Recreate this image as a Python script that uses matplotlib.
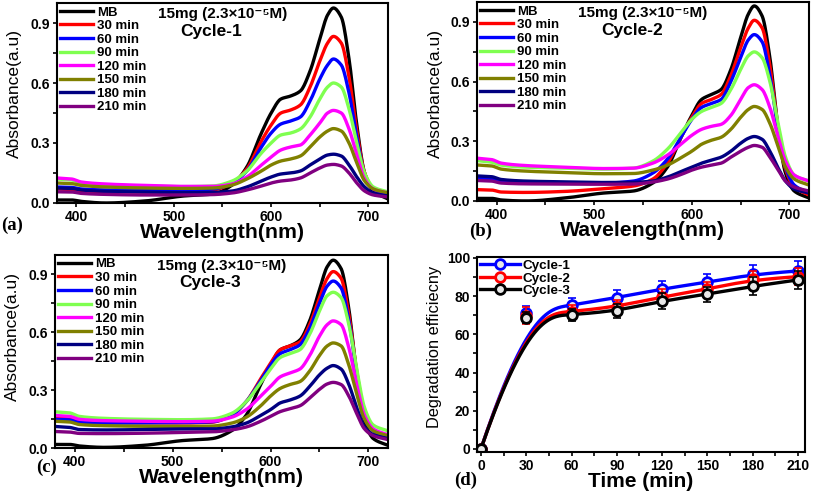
import numpy as np
import matplotlib
matplotlib.use('Agg')
from matplotlib import pyplot as plt
from matplotlib.ticker import MultipleLocator

# wavelength grid (nm)
wl = [380, 395, 405, 430, 470, 510, 540, 560, 575, 590, 600, 610,
      620, 630, 640, 650, 658, 664, 672, 680, 688, 696, 705, 720]

labels = ['MB', '30 min', '60 min', '90 min', '120 min', '150 min', '180 min', '210 min']
colors = ['#000000', '#ff0000', '#0000ff', '#7fff50', '#ff00ff', '#808000', '#000080', '#800080']

# Cycle-1 spectra
c1_mb = [.015, .015, .008, .0, .01, .035, .045, .09, .18, .35, .45, .52, .535, .56, .66, .82, .94, .975, .93, .72, .39, .15, .06, .02]
c1_30 = [.07, .068, .06, .058, .055, .058, .065, .1, .17, .31, .39, .45, .465, .49, .58, .71, .8, .833, .8, .63, .36, .15, .07, .04]
c1_60 = [.08, .078, .07, .065, .062, .063, .07, .1, .16, .28, .35, .395, .41, .43, .51, .62, .69, .72, .69, .55, .33, .14, .07, .045]
c1_90 = [.12, .115, .1, .09, .085, .082, .085, .11, .16, .25, .3, .34, .35, .37, .43, .52, .58, .6, .58, .47, .3, .15, .08, .055]
c1_120 = [.125, .12, .105, .095, .088, .083, .083, .095, .13, .19, .23, .265, .28, .29, .34, .4, .45, .463, .45, .37, .24, .12, .07, .05]
c1_150 = [.1, .097, .088, .08, .075, .073, .075, .09, .12, .16, .19, .21, .22, .235, .28, .33, .36, .372, .36, .3, .2, .11, .07, .05]
c1_180 = [.075, .073, .065, .058, .055, .052, .053, .06, .08, .11, .13, .145, .15, .16, .19, .22, .24, .244, .235, .19, .13, .08, .05, .035]
c1_210 = [.056, .055, .048, .043, .04, .04, .042, .05, .065, .085, .1, .11, .115, .125, .15, .175, .19, .193, .185, .15, .1, .06, .04, .03]

# Cycle-2 spectra
c2_mb = [.013, .013, .005, .0, .015, .04, .05, .09, .17, .33, .43, .51, .535, .56, .66, .82, .94, .98, .93, .72, .38, .14, .05, .015]
c2_30 = [.057, .055, .045, .043, .048, .062, .075, .11, .19, .33, .42, .49, .51, .535, .63, .77, .87, .908, .87, .68, .38, .16, .07, .03]
c2_60 = [.113, .11, .1, .095, .092, .09, .1, .14, .21, .33, .41, .47, .49, .51, .6, .72, .81, .836, .8, .63, .37, .17, .08, .04]
c2_90 = [.203, .195, .18, .17, .165, .16, .165, .2, .26, .35, .41, .45, .47, .49, .56, .66, .73, .749, .72, .6, .4, .22, .13, .1]
c2_120 = [.215, .208, .19, .178, .17, .163, .165, .19, .23, .29, .33, .36, .375, .385, .43, .51, .57, .584, .56, .47, .33, .2, .13, .1]
c2_150 = [.181, .176, .16, .15, .143, .137, .138, .155, .18, .22, .25, .285, .305, .32, .36, .42, .46, .475, .46, .39, .28, .17, .11, .08]
c2_180 = [.126, .122, .108, .1, .096, .093, .094, .1, .12, .15, .17, .19, .205, .22, .25, .29, .315, .324, .31, .25, .17, .1, .06, .04]
c2_210 = [.103, .1, .09, .086, .085, .084, .085, .095, .11, .135, .155, .17, .18, .19, .22, .25, .27, .279, .27, .22, .16, .1, .07, .05]

# Cycle-3 spectra
c3_mb = [.02, .02, .012, .005, .015, .04, .05, .09, .17, .33, .43, .51, .53, .56, .66, .82, .94, .973, .93, .72, .38, .14, .05, .015]
c3_30 = [.157, .153, .14, .135, .132, .131, .135, .17, .24, .36, .44, .51, .53, .55, .64, .78, .88, .914, .88, .69, .4, .18, .09, .05]
c3_60 = [.15, .147, .135, .13, .132, .133, .137, .17, .24, .35, .43, .49, .51, .535, .62, .75, .84, .865, .83, .66, .39, .18, .09, .05]
c3_90 = [.189, .183, .165, .155, .15, .148, .152, .18, .24, .34, .41, .47, .49, .51, .59, .71, .79, .807, .78, .64, .41, .21, .12, .09]
c3_120 = [.17, .165, .15, .143, .14, .138, .14, .16, .2, .27, .32, .37, .39, .41, .48, .58, .64, .659, .64, .52, .33, .17, .1, .07]
c3_150 = [.14, .136, .123, .117, .114, .113, .115, .13, .16, .22, .27, .31, .33, .345, .4, .48, .53, .545, .53, .43, .28, .15, .09, .065]
c3_180 = [.113, .108, .097, .095, .097, .1, .1, .11, .13, .17, .2, .235, .25, .27, .32, .38, .415, .428, .41, .33, .21, .11, .07, .05]
c3_210 = [.087, .084, .077, .076, .078, .082, .085, .095, .11, .14, .165, .19, .205, .22, .26, .305, .333, .341, .33, .27, .18, .1, .065, .045]

# degradation efficiency
time = [0, 30, 60, 90, 120, 150, 180, 210]
eff1 = [0, 71.4, 75.4, 79.2, 83.8, 87.3, 91.5, 93.2]
eff2 = [0, 69.8, 71.9, 74.5, 79.7, 83.6, 88.8, 90.2]
eff3 = [0, 68.8, 70.2, 72.3, 77.5, 81.0, 85.3, 88.5]
err1 = [0, 3.5, 3.5, 4, 4, 4.5, 5, 5]
err2 = [0, 4.5, 3.5, 3.5, 4, 4, 4.5, 4.5]
err3 = [0, 3, 3, 3.5, 4, 4, 4.5, 4.5]

plt.rcParams['font.family'] = ['Liberation Sans', 'DejaVu Sans']
plt.rcParams['font.weight'] = 'bold'
plt.rcParams['axes.linewidth'] = 1.5
plt.rcParams['xtick.direction'] = 'out'
plt.rcParams['ytick.direction'] = 'out'
for a in ['xtick', 'ytick']:
    plt.rcParams[a + '.major.width'] = 1.2
    plt.rcParams[a + '.minor.width'] = 1.2
    plt.rcParams[a + '.major.size'] = 3
    plt.rcParams[a + '.minor.size'] = 3


def smooth(x, y, n=400):
    # monotone cubic (PCHIP) line through the read points, for drawing only
    x = np.asarray(x, float)
    y = np.asarray(y, float)
    h = np.diff(x)
    dl = np.diff(y) / h
    d = np.zeros_like(y)
    for k in range(1, len(x) - 1):
        if dl[k - 1] * dl[k] > 0:
            w1 = 2 * h[k] + h[k - 1]
            w2 = h[k] + 2 * h[k - 1]
            d[k] = (w1 + w2) / (w1 / dl[k - 1] + w2 / dl[k])
    d[0], d[-1] = dl[0], dl[-1]
    xs = np.linspace(x[0], x[-1], n)
    i = np.clip(np.searchsorted(x, xs) - 1, 0, len(x) - 2)
    t = (xs - x[i]) / h[i]
    h00 = 2 * t**3 - 3 * t**2 + 1
    h10 = t**3 - 2 * t**2 + t
    h01 = -2 * t**3 + 3 * t**2
    h11 = t**3 - t**2
    ys = h00 * y[i] + h10 * h[i] * d[i] + h01 * y[i + 1] + h11 * h[i] * d[i + 1]
    return xs, ys


def bspline(px, py, n=300, k=3):
    # clamped B-spline with the points as controls (line drawing only)
    m = len(px)
    knots = np.concatenate([np.zeros(k), np.linspace(0, 1, m - k + 1), np.ones(k)])
    t = np.linspace(0, 1 - 1e-9, n)
    N = np.zeros((n, len(knots) - 1))
    for i in range(len(knots) - 1):
        N[:, i] = (t >= knots[i]) & (t < knots[i + 1])
    for dg in range(1, k + 1):
        Nn = np.zeros((n, len(knots) - 1 - dg))
        for i in range(len(knots) - 1 - dg):
            a = knots[i + dg] - knots[i]
            b = knots[i + dg + 1] - knots[i + 1]
            t1 = (t - knots[i]) / a * N[:, i] if a > 0 else 0
            t2 = (knots[i + dg + 1] - t) / b * N[:, i + 1] if b > 0 else 0
            Nn[:, i] = t1 + t2
        N = Nn
    return N @ np.array(px, float), N @ np.array(py, float)


fig = plt.figure(figsize=(8.13, 4.92), dpi=100)
pos = {
    'a': [0.0701, 0.5874, 0.4071, 0.4065],
    'b': [0.5867, 0.5915, 0.4083, 0.4045],
    'c': [0.0677, 0.0888, 0.4096, 0.3930],
    'd': [0.5867, 0.0813, 0.4034, 0.3963],
}

spectra = {
    'a': ([c1_mb, c1_30, c1_60, c1_90, c1_120, c1_150, c1_180, c1_210], 'Cycle-1', -0.106, 0.55),
    'b': ([c2_mb, c2_30, c2_60, c2_90, c2_120, c2_150, c2_180, c2_210], 'Cycle-2', -0.102, 0.54),
    'c': ([c3_mb, c3_30, c3_60, c3_90, c3_120, c3_150, c3_180, c3_210], 'Cycle-3', -0.106, 0.58),
}

for key, (series, cyc, ylab_x, ylab_y) in spectra.items():
    ax = fig.add_axes(pos[key])
    for ys, col, lab in zip(series, colors, labels):
        sx, sy = smooth(wl, ys)
        ax.plot(sx, sy, color=col, lw=2.4, label=lab)
    ax.set_xlim(380, 720)
    ax.set_ylim(0, 1.0)
    ax.xaxis.set_major_locator(MultipleLocator(100))
    ax.xaxis.set_minor_locator(MultipleLocator(50))
    ax.yaxis.set_minor_locator(MultipleLocator(0.15))
    ax.set_yticks([0, 0.3, 0.6, 0.9])
    ax.set_yticklabels(['0.0', '0.3', '0.6', '0.9'])
    ax.tick_params(labelsize=10, pad=2)
    ax.set_xlabel('Wavelength(nm)', fontsize=15.3, fontweight='bold', labelpad=-1)
    ax.set_ylabel('Absorbance(a.u)', fontsize=12.5, fontweight='normal')
    ax.yaxis.set_label_coords(ylab_x, ylab_y)
    ax.legend(loc='upper left', frameon=False, fontsize=9.5, handlelength=2.5,
              handletextpad=0.3, labelspacing=0.1, borderaxespad=0.1, borderpad=0.15)
    ax.text(0.5, 0.945, '15mg (2.3×10⁻⁵M)', transform=ax.transAxes,
            ha='center', va='center', fontsize=11, fontweight='bold')
    ax.text(0.467, 0.857, cyc, transform=ax.transAxes,
            ha='center', va='center', fontsize=12.5, fontweight='bold')

ax = fig.add_axes(pos['d'])
for ys, es, col, lab in [(eff1, err1, '#0000ff', 'Cycle-1'),
                         (eff2, err2, '#ff0000', 'Cycle-2'),
                         (eff3, err3, '#000000', 'Cycle-3')]:
    sx, sy = bspline(time, ys)
    ax.plot(sx, sy, color=col, lw=2.4)
    ax.errorbar(time, ys, yerr=es, fmt='none', ecolor=col, elinewidth=1.2, capsize=3, capthick=1.2)
    ax.plot(time, ys, 'o', color=col, mfc='#e8e8e8', mec=col, mew=2, ms=7)
    ax.plot([], [], '-o', color=col, mfc='#e8e8e8', mec=col, mew=2, ms=7, lw=2.4, label=lab)
ax.set_xlim(-2.6, 214.6)
ax.set_ylim(-1.6, 100.5)
ax.xaxis.set_major_locator(MultipleLocator(30))
ax.xaxis.set_minor_locator(MultipleLocator(15))
ax.yaxis.set_major_locator(MultipleLocator(20))
ax.yaxis.set_minor_locator(MultipleLocator(10))
ax.tick_params(labelsize=10, pad=2)
ax.set_xlabel('Time (min)', fontsize=15, fontweight='bold', labelpad=-1)
ax.set_ylabel('Degradation efficiecny', fontsize=11.8, fontweight='normal')
ax.yaxis.set_label_coords(-0.107, 0.54)
ax.legend(loc='upper left', frameon=False, fontsize=9.7, handlelength=3.0,
          handletextpad=0.2, labelspacing=0.0, borderaxespad=0.1, borderpad=0.1)

# panel letters
for lab, x, y in [('(a)', 12, 225), ('(b)', 481, 231), ('(c)', 46, 467), ('(d)', 466, 480)]:
    fig.text(x / 813, 1 - y / 492, lab, ha='center', va='center', fontsize=13.5,
             fontweight='bold', family=['Liberation Serif', 'DejaVu Serif'])

fig.savefig('out.png', dpi=100)
plt.close()
